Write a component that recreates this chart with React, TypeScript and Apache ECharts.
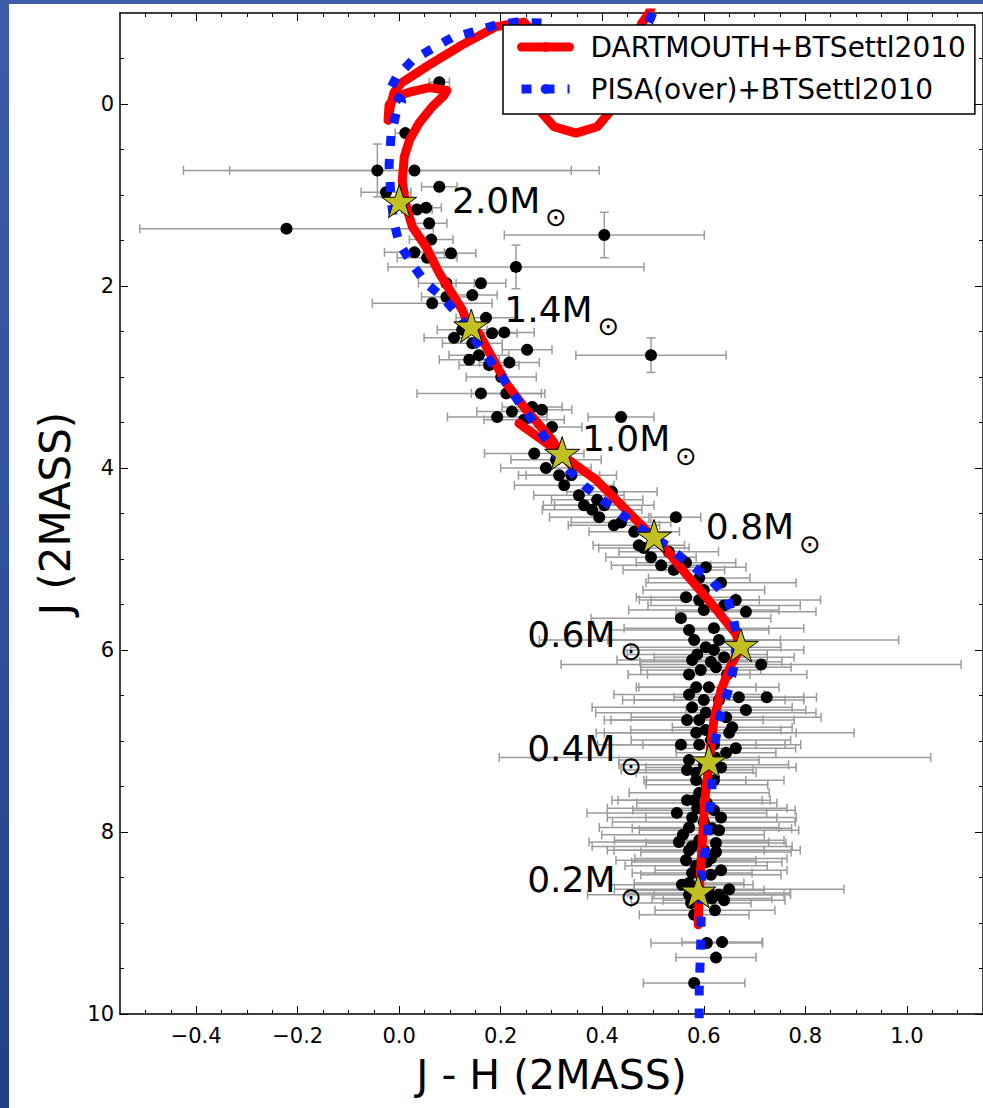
import React, { useEffect, useRef } from "react";
import * as echarts from "echarts";

const FONT = "DejaVu Sans";

// Observed stars: J-H colour, J magnitude, errors
const obsJH = [
  0.079, 0.012, -0.043, 0.030, -0.026, 0.079, -0.222, 0.035, 0.053, 0.059, 0.063, 0.030, 0.102, 0.055,
  0.404, 0.230, 0.093, 0.161, 0.144, 0.065, 0.093, 0.171, 0.207, 0.144, 0.252, 0.496, 0.124, 0.183,
  0.157, 0.177, 0.217, 0.201, 0.161, 0.211, 0.262, 0.281, 0.193, 0.222, 0.437, 0.301, 0.266, 0.289,
  0.325, 0.354, 0.380, 0.394, 0.419, 0.545, 0.496, 0.516, 0.565, 0.604, 0.634, 0.565, 0.663, 0.600,
  0.555, 0.683, 0.620, 0.604, 0.630, 0.577, 0.594, 0.624, 0.640, 0.713, 0.585, 0.610, 0.669, 0.724,
  0.577, 0.604, 0.644, 0.683, 0.585, 0.604, 0.650, 0.656, 0.555, 0.622, 0.663, 0.644, 0.585, 0.634,
  0.591, 0.587, 0.547, 0.577, 0.634, 0.571, 0.616, 0.551, 0.577, 0.624, 0.624, 0.565, 0.577, 0.571,
  0.650, 0.630, 0.575, 0.616, 0.606, 0.636, 0.624, 0.581, 0.606, 0.571, 0.585,
  0.591, 0.571, 0.587, 0.620, 0.646, 0.571, 0.630, 0.591, 0.614, 0.571, 0.600, 0.620, 0.567, 0.630,
  0.591, 0.606, 0.614, 0.591, 0.581, 0.622, 0.339, 0.404, 0.437, 0.463, 0.482, 0.531, 0.309, 0.246,
  0.138, 0.108,
  0.600, 0.640, 0.581, 0.614, 0.571, 0.600, 0.567, 0.620, 0.591, 0.567, 0.606, 0.581, 0.620, 0.600,
  0.559, 0.600, 0.614, 0.585, 0.634, 0.557, 0.610, 0.571, 0.640, 0.591, 0.541, 0.472, 0.423, 0.390,
  0.364, 0.315,
];
const obsJ = [
  -0.24, 0.32, 0.73, 0.73, 0.97, 0.91, 1.37, 1.16, 1.14, 1.31, 1.49, 1.63, 1.64, 1.69,
  1.44, 1.79, 1.97, 1.97, 2.10, 2.19, 2.12, 2.35, 2.51, 2.63, 2.70, 2.76, 2.48, 2.52,
  2.76, 2.87, 2.84, 3.00, 3.18, 3.18, 3.33, 3.36, 3.44, 3.38, 3.44, 3.55, 3.84, 4.00,
  4.19, 4.30, 4.46, 4.54, 4.26, 4.54, 4.98, 5.07, 5.04, 5.09, 5.26, 5.42, 5.45, 5.56,
  5.65, 5.58, 5.76, 5.97, 5.89, 6.11, 6.22, 6.19, 6.08, 6.16, 6.41, 6.41, 6.52, 6.52,
  6.63, 6.69, 6.74, 6.66, 6.91, 6.88, 6.91, 6.85, 7.04, 7.18, 7.08, 7.13, 7.35, 7.29,
  7.57, 7.74, 7.79, 7.84, 7.84, 7.95, 7.96, 8.11, 8.16, 8.12, 8.22, 8.31, 8.45, 8.56,
  8.63, 8.69, 8.78, 8.73, 9.22, 9.21, 9.38, 9.66, 7.68, 8.20, 7.43,
  5.45, 5.78, 6.05, 6.00, 6.27, 6.49, 6.55, 6.77, 6.99, 7.21, 7.26, 7.43, 7.65, 7.98,
  8.09, 8.33, 8.47, 8.64, 8.91, 8.86, 4.08, 4.41, 4.60, 4.70, 4.88, 4.92, 3.91, 3.47,
  2.81, 2.57,
  5.34, 5.51, 5.89, 6.13, 6.27, 6.55, 6.77, 7.04, 7.04, 7.32, 7.48, 7.65, 7.76, 7.89,
  8.03, 8.20, 8.29, 8.37, 8.42, 8.58, 8.67, 8.69, 8.75, 5.21, 5.12, 4.85, 4.63, 4.35,
  4.41, 4.08,
];
const obsJHErr = [
  0.020, 0.020, 0.382, 0.364, 0.049, 0.035, 0.289, 0.030, 0.030, 0.035, 0.043, 0.059, 0.049, 0.059,
  0.197, 0.252, 0.055, 0.049, 0.049, 0.118, 0.049, 0.059, 0.059, 0.059, 0.049, 0.148, 0.049, 0.049,
  0.059, 0.059, 0.059, 0.069, 0.126, 0.069, 0.059, 0.059, 0.098, 0.069, 0.065, 0.059, 0.098, 0.089,
  0.098, 0.089, 0.098, 0.098, 0.089, 0.049, 0.089, 0.098, 0.098, 0.079, 0.148, 0.098, 0.167, 0.148,
  0.177, 0.138, 0.177, 0.148, 0.354, 0.148, 0.118, 0.148, 0.138, 0.394, 0.118, 0.138, 0.128, 0.098,
  0.197, 0.217, 0.187, 0.118, 0.197, 0.148, 0.246, 0.118, 0.148, 0.425, 0.118, 0.098, 0.118, 0.148,
  0.138, 0.177, 0.177, 0.167, 0.148, 0.177, 0.157, 0.177, 0.197, 0.138, 0.148, 0.138, 0.118, 0.108,
  0.226, 0.128, 0.118, 0.118, 0.110, 0.079, 0.079, 0.100, 0.138, 0.148, 0.098,
  0.118, 0.157, 0.138, 0.177, 0.157, 0.148, 0.167, 0.187, 0.157, 0.138, 0.167, 0.138, 0.148, 0.157,
  0.167, 0.148, 0.138, 0.128, 0.108, 0.118, 0.089, 0.098, 0.098, 0.089, 0.089, 0.098, 0.089, 0.079,
  0.059, 0.059,
  0.120, 0.150, 0.170, 0.140, 0.120, 0.160, 0.150, 0.140, 0.200, 0.130, 0.120, 0.150, 0.160, 0.180,
  0.160, 0.190, 0.150, 0.140, 0.130, 0.140, 0.160, 0.200, 0.120, 0.100, 0.100, 0.090, 0.090, 0.090,
  0.080, 0.080,
];
// vertical (J) errors, only a few stars have visible ones
const obsJErrIdx = [2, 14, 15, 25];
const obsJErrVal = [0.29, 0.25, 0.24, 0.19];

// Isochrones
const dartLowJH = [0.589, 0.591, 0.596, 0.602, 0.610, 0.620, 0.634, 0.654, 0.673, 0.663, 0.612, 0.567, 0.531, 0.502, 0.447, 0.388, 0.321, 0.301, 0.236];
const dartLowJ = [9.02, 8.67, 8.20, 7.65, 7.24, 6.77, 6.44, 6.16, 5.97, 5.82, 5.47, 5.18, 4.93, 4.77, 4.46, 4.13, 3.86, 3.77, 3.51];
const dartHighJH = [
  0.344, 0.321, 0.301, 0.250, 0.211, 0.157, 0.138, 0.124, 0.079, 0.053, 0.026, 0.012, 0.006, 0.010, 0.020, 0.039, 0.065,
  0.089, 0.094, 0.059, 0.020, -0.008, -0.020, -0.022, -0.018, -0.010, 0.004, 0.059, 0.124, 0.191, 0.246, 0.276,
  0.270, 0.281, 0.305, 0.348, 0.390, 0.413, 0.443, 0.478, 0.492, 0.502,
];
const dartHighJ = [
  4.00, 3.86, 3.69, 3.36, 3.07, 2.52, 2.45, 2.26, 1.86, 1.57, 1.35, 1.09, 0.84, 0.58, 0.40, 0.21, 0.03,
  -0.10, -0.15, -0.18, -0.13, -0.08, 0.01, 0.18, 0.04, -0.13, -0.23, -0.43, -0.65, -0.85, -0.90, -0.70,
  -0.26, 0.10, 0.25, 0.32, 0.25, 0.10, -0.37, -0.89, -1.00, -1.14,
];
const pisaJH = [
  0.591, 0.591, 0.594, 0.596, 0.604, 0.610, 0.616, 0.616, 0.634, 0.650, 0.659, 0.665, 0.659, 0.646, 0.614,
  0.575, 0.531, 0.472, 0.419, 0.368, 0.321, 0.276, 0.242, 0.211, 0.163, 0.112, 0.085, 0.053, 0.024, 0.0,
  -0.010, -0.016, -0.020, -0.016, -0.006, 0.006, -0.020, -0.006, 0.026, 0.059, 0.104, 0.144, 0.191, 0.230,
  0.281, 0.330, 0.394, 0.472, 0.498, 0.506,
];
const pisaJ = [
  10.05, 9.74, 9.22, 8.45, 8.16, 7.87, 7.54, 7.18, 6.69, 6.41, 6.19, 5.86, 5.67, 5.42, 5.23,
  5.07, 4.87, 4.65, 4.43, 4.21, 3.95, 3.58, 3.33, 3.07, 2.70, 2.29, 2.12, 1.97, 1.75, 1.53,
  1.31, 1.05, 0.67, 0.34, 0.10, -0.04, -0.14, -0.29, -0.48, -0.59, -0.73, -0.79, -0.87, -0.90,
  -0.89, -0.75, -0.60, -0.65, -0.98, -1.09,
];

// Mass markers and labels
const starJH = [0.0, 0.142, 0.321, 0.502, 0.673, 0.610, 0.589];
const starJ = [1.09, 2.46, 3.86, 4.77, 5.97, 7.24, 8.67];
const massLabels = ["2.0M", "1.4M", "1.0M", "0.8M", "0.6M", "0.4M", "0.2M"];
const labelJH = [0.104, 0.207, 0.360, 0.604, 0.252, 0.252, 0.252];
const labelJ = [1.20, 2.40, 3.82, 4.79, 5.97, 7.23, 8.67];

const xMajor = [-0.4, -0.2, 0.0, 0.2, 0.4, 0.6, 0.8, 1.0];
const yMajor = [0, 2, 4, 6, 8, 10];

const NAME_DART = "DARTMOUTH+BTSettl2010";
const NAME_PISA = "PISA(over)+BTSettl2010";

const STAR_PATH =
  "path://M0,-1 L0.2245,-0.309 L0.951,-0.309 L0.363,0.118 L0.588,0.809 L0,0.382 L-0.588,0.809 L-0.363,0.118 L-0.951,-0.309 L-0.2245,-0.309 Z";

export default function App() {
  const ref = useRef<HTMLDivElement>(null);

  useEffect(() => {
    document.body.style.margin = "0";
    if (!ref.current) return;
    const chart = echarts.init(ref.current, null, { renderer: "svg" });

    const xMinor: number[] = [];
    for (let i = -10; i <= 22; i++) if (i % 4 !== 0) xMinor.push(Math.round(i * 5) / 100);
    const yMinor: number[] = [];
    for (let i = -1; i <= 19; i++) if (i % 4 !== 0) yMinor.push(i * 0.5);

    const X_MIN = -0.55, X_MAX = 1.15, Y_MIN = -1, Y_MAX = 10;
    const axisLineOn = { show: true, onZero: false, lineStyle: { color: "#000", width: 1.5 } };
    const axisLineOff = { show: false, onZero: false };
    const fmtX = (v: number) => (v < 0 ? "\u2212" + Math.abs(v).toFixed(1) : v.toFixed(1));

    const xBase = (position: "top" | "bottom", major: boolean, showLine: boolean, labels: boolean) => ({
      type: "value",
      gridIndex: 0,
      position,
      min: X_MIN,
      max: X_MAX,
      splitLine: { show: false },
      axisLine: showLine ? axisLineOn : axisLineOff,
      axisTick: {
        show: true,
        inside: true,
        length: major ? 8 : 4,
        lineStyle: { color: "#000", width: 1 },
        customValues: major ? xMajor : xMinor,
      },
      axisLabel: labels
        ? { show: true, customValues: xMajor, formatter: fmtX, fontFamily: FONT, fontSize: 21, color: "#000", margin: 11 }
        : { show: false },
    });
    const yBase = (position: "left" | "right", major: boolean, showLine: boolean, labels: boolean) => ({
      type: "value",
      gridIndex: 0,
      position,
      inverse: true,
      min: Y_MIN,
      max: Y_MAX,
      splitLine: { show: false },
      axisLine: showLine ? axisLineOn : axisLineOff,
      axisTick: {
        show: true,
        inside: true,
        length: major ? 8 : 4,
        lineStyle: { color: "#000", width: 1 },
        customValues: major ? yMajor : yMinor,
      },
      axisLabel: labels
        ? { show: true, customValues: yMajor, fontFamily: FONT, fontSize: 21, color: "#000", margin: 6 }
        : { show: false },
    });

    const xAxes: any[] = [
      {
        ...xBase("bottom", true, true, true),
        name: "J - H (2MASS)",
        nameLocation: "middle",
        nameGap: 40,
        nameTextStyle: { fontFamily: FONT, fontSize: 41, color: "#000" },
      },
      xBase("bottom", false, false, false),
      xBase("top", true, true, false),
      xBase("top", false, false, false),
    ];
    const yAxes: any[] = [
      {
        ...yBase("left", true, true, true),
        name: "J (2MASS)",
        nameLocation: "middle",
        nameGap: 42,
        nameRotate: 90,
        nameTextStyle: { fontFamily: FONT, fontSize: 42, color: "#000" },
      },
      yBase("left", false, false, false),
      yBase("right", true, true, false),
      yBase("right", false, false, false),
    ];

    const errData = obsJH.map((x, i) => {
      const k = obsJErrIdx.indexOf(i);
      return [x, obsJ[i], obsJHErr[i], k >= 0 ? obsJErrVal[k] : 0];
    });

    const errStyle = { stroke: "#9b9b9b", lineWidth: 1.5, fill: null };
    const CAP = 4.5;

    const option: any = {
      animation: false,
      backgroundColor: "#fff",
      grid: { left: 111, top: 9, width: 864, height: 1001, containLabel: false },
      xAxis: xAxes,
      yAxis: yAxes,
      legend: {
        orient: "vertical",
        left: 494,
        top: 21,
        z: 20,
        backgroundColor: "#fff",
        borderColor: "#000",
        borderWidth: 1.5,
        borderRadius: 0,
        padding: [5, 9, 8, 14],
        itemGap: 8,
        itemWidth: 48,
        itemHeight: 12,
        lineStyle: { width: "inherit" },
        textStyle: { fontFamily: FONT, fontSize: 28, color: "#000", lineHeight: 34, padding: [0, 0, 0, 16] },
        data: [NAME_DART, NAME_PISA],
        selectedMode: false,
      },
      series: [
        {
          type: "custom",
          name: "errors",
          xAxisIndex: 0,
          yAxisIndex: 0,
          z: 1,
          silent: true,
          encode: { x: 0, y: 1 },
          data: errData,
          renderItem: (_params: any, api: any) => {
            const x = api.value(0), y = api.value(1), ex = api.value(2), ey = api.value(3);
            const l = api.coord([x - ex, y]);
            const r = api.coord([x + ex, y]);
            const children: any[] = [
              { type: "line", shape: { x1: l[0], y1: l[1], x2: r[0], y2: r[1] }, style: errStyle },
              { type: "line", shape: { x1: l[0], y1: l[1] - CAP, x2: l[0], y2: l[1] + CAP }, style: errStyle },
              { type: "line", shape: { x1: r[0], y1: r[1] - CAP, x2: r[0], y2: r[1] + CAP }, style: errStyle },
            ];
            if (ey > 0) {
              const t = api.coord([x, y - ey]);
              const b = api.coord([x, y + ey]);
              children.push(
                { type: "line", shape: { x1: t[0], y1: t[1], x2: b[0], y2: b[1] }, style: errStyle },
                { type: "line", shape: { x1: t[0] - CAP, y1: t[1], x2: t[0] + CAP, y2: t[1] }, style: errStyle },
                { type: "line", shape: { x1: b[0] - CAP, y1: b[1], x2: b[0] + CAP, y2: b[1] }, style: errStyle }
              );
            }
            return { type: "group", children };
          },
        },
        {
          type: "scatter",
          name: "stars",
          xAxisIndex: 0,
          yAxisIndex: 0,
          z: 2,
          symbol: "circle",
          symbolSize: 12,
          itemStyle: { color: "#000", opacity: 1 },
          data: obsJH.map((x, i) => [x, obsJ[i]]),
        },
        {
          type: "line",
          name: NAME_DART,
          xAxisIndex: 0,
          yAxisIndex: 0,
          z: 3,
          symbol: "none",
          lineStyle: { color: "#ff0000", width: 9, cap: "round", join: "round" },
          itemStyle: { color: "#ff0000" },
          data: dartLowJH.map((x, i) => [x, dartLowJ[i]]),
        },
        {
          type: "line",
          name: NAME_DART,
          xAxisIndex: 0,
          yAxisIndex: 0,
          z: 3,
          symbol: "none",
          lineStyle: { color: "#ff0000", width: 9, cap: "round", join: "round" },
          itemStyle: { color: "#ff0000" },
          data: dartHighJH.map((x, i) => [x, dartHighJ[i]]),
        },
        {
          type: "line",
          name: NAME_PISA,
          xAxisIndex: 0,
          yAxisIndex: 0,
          z: 4,
          symbol: "none",
          lineStyle: { color: "#0a1eff", width: 9, type: [10, 13], cap: "butt" },
          itemStyle: { color: "#0a1eff" },
          data: pisaJH.map((x, i) => [x, pisaJ[i]]),
        },
        {
          type: "scatter",
          name: "mass",
          xAxisIndex: 0,
          yAxisIndex: 0,
          z: 5,
          symbol: STAR_PATH,
          symbolKeepAspect: true,
          symbolSize: 35,
          symbolOffset: [0, -2],
          itemStyle: { color: "#c0c020", borderColor: "#000", borderWidth: 1, opacity: 1 },
          data: starJH.map((x, i) => [x, starJ[i]]),
        },
      ],
    };

    chart.setOption(option);

    const graphics: any[] = [];
    massLabels.forEach((t, i) => {
      const p = chart.convertToPixel({ seriesIndex: 5 }, [labelJH[i], labelJ[i]]) as number[];
      graphics.push({
        type: "text",
        x: p[0],
        y: p[1] - 13,
        z: 30,
        style: { text: t, fontFamily: FONT, fontSize: 36, fill: "#000", textAlign: "left", textVerticalAlign: "middle" },
      });
      graphics.push({
        type: "text",
        x: p[0] + 104,
        y: p[1] + 4,
        z: 30,
        style: { text: "\u2299", fontFamily: FONT, fontSize: 26, fill: "#000", textAlign: "center", textVerticalAlign: "middle" },
      });
    });
    chart.setOption({ graphic: graphics });

    return () => chart.dispose();
  }, []);

  return (
    <div
      style={{
        position: "relative",
        width: 983,
        height: 1108,
        overflow: "hidden",
        background: "linear-gradient(180deg, #3b5ca7 0%, #30519e 50%, #233f86 100%)",
      }}
    >
      <div ref={ref} style={{ position: "absolute", left: 9, top: 4, width: 974, height: 1104, background: "#fff" }} />
    </div>
  );
}
